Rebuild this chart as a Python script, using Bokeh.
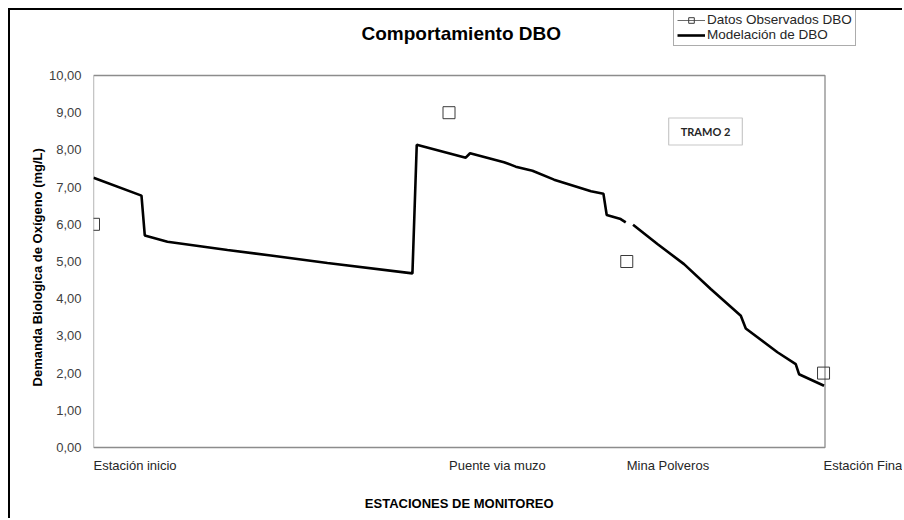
import math
from bokeh.plotting import figure
from bokeh.models import (Label, Legend, LegendItem, FixedTicker, Range1d)
from bokeh.embed import file_html
from bokeh.resources import INLINE

# ---------------- data ----------------
stations = ["Estación inicio", "Puente via muzo", "Mina Polveros", "Estación Fina"]
station_x = [0.0, 48.6, 72.9, 99.8]
dbo_observed = [6.0, 9.0, 5.0, 2.0]

model_x = [0.0, 6.56, 7.01, 10.11, 18.32, 24.24, 31.98, 43.60,
           44.19, 50.89, 51.48, 56.12, 57.72, 60.01, 62.96, 68.01,
           69.71, 70.16, 72.07, 72.76, math.nan,
           73.76, 77.09, 80.73, 84.38, 88.49, 89.17, 93.50, 96.00,
           96.45, 99.87]
model_dbo = [7.25, 6.77, 5.70, 5.53, 5.31, 5.16, 4.96, 4.68,
             8.14, 7.79, 7.91, 7.67, 7.55, 7.44, 7.20, 6.89,
             6.82, 6.25, 6.14, 6.05, math.nan,
             5.99, 5.47, 4.93, 4.26, 3.54, 3.20, 2.56, 2.24,
             1.97, 1.66]

y_ticks = [0, 1, 2, 3, 4, 5, 6, 7, 8, 9, 10]
y_tick_labels = ["0,00", "1,00", "2,00", "3,00", "4,00", "5,00",
                 "6,00", "7,00", "8,00", "9,00", "10,00"]

# plot-area extent (axis limits)
X_MIN, X_MAX = 0.0, 100.0
Y_MIN, Y_MAX = 0.0, 10.0

# ---------------- layout (pixels) ----------------
W, H = 894, 510
LEFT = 83
AREA_W, AREA_TOP, AREA_BOTTOM = 731.5, 65, 437   # plot area inside the canvas
px_x = AREA_W / (X_MAX - X_MIN)
px_y = (AREA_BOTTOM - AREA_TOP) / (Y_MAX - Y_MIN)
x_range = Range1d(X_MIN, X_MIN + (W - LEFT) / px_x)
y_range = Range1d(Y_MIN - (H - AREA_BOTTOM) / px_y, Y_MAX + AREA_TOP / px_y)

FONT = "Liberation Sans"

p = figure(width=W, height=H, output_backend="svg", toolbar_location=None,
           x_range=x_range, y_range=y_range,
           min_border_left=LEFT, min_border_right=0, min_border_top=0,
           min_border_bottom=0,
           styles={"border-left": "2px solid #000", "border-top": "2px solid #000",
                   "margin-left": "8px", "margin-top": "8px"})
p.grid.visible = False
p.outline_line_color = None
p.background_fill_color = "white"
p.border_fill_color = "white"
p.xaxis.visible = False

# plot-area box
p.quad(left=[X_MIN], right=[X_MAX], bottom=[Y_MIN], top=[Y_MAX],
       fill_color=None, line_color="#8c8c8c", line_width=1.3)

# model line
r_model = p.line(model_x, model_dbo, line_color="black", line_width=2.6)
# observed
r_obs = p.scatter(station_x, dbo_observed, marker="square", size=12,
                  fill_color=None, line_color="#3a3a3a", line_width=1)
# legend proxy for the thin series line of the observed data (draws nothing)
r_proxy = p.line([math.nan], [math.nan], line_color="#6a6a6a", line_width=1)

# y axis
ya = p.yaxis[0]
ya.ticker = FixedTicker(ticks=y_ticks)
ya.major_label_overrides = {t: l for t, l in zip(y_ticks, y_tick_labels)}
ya.major_tick_line_color = None
ya.minor_tick_line_color = None
ya.axis_line_color = None
ya.major_label_text_font = FONT
ya.major_label_text_font_size = "13px"
ya.major_label_text_color = "#404040"
ya.major_label_standoff = 6
ya.axis_label = "Demanda Biologica de Oxígeno  (mg/L)"
ya.axis_label_text_font = FONT
ya.axis_label_text_font_size = "13px"
ya.axis_label_text_font_style = "bold"
ya.axis_label_text_color = "black"
ya.axis_label_standoff = 1

# station labels (x axis categories), left aligned at the station
for sx, name in zip(station_x, stations):
    p.add_layout(Label(x=sx, y=H - 455, x_units="data", y_units="screen",
                       text=name, text_align="left", text_baseline="middle",
                       text_font=FONT, text_font_size="13px",
                       text_color="#262626"))

# x axis title
p.add_layout(Label(x=AREA_W / 2, y=H - 493, x_units="screen", y_units="screen",
                   text="ESTACIONES DE MONITOREO", text_align="center",
                   text_baseline="middle", text_font=FONT,
                   text_font_size="13px", text_font_style="bold",
                   text_color="black"))

# chart title
p.add_layout(Label(x=AREA_W / 2 + 2, y=H - 23, x_units="screen", y_units="screen",
                   text="Comportamiento DBO", text_align="center",
                   text_baseline="middle", text_font=FONT,
                   text_font_size="19px", text_font_style="bold",
                   text_color="black"))

# TRAMO 2 box
p.add_layout(Label(x=612, y=H - 121, x_units="screen", y_units="screen",
                   text="TRAMO 2", text_align="center", text_baseline="middle",
                   text_font="Lato", text_font_size="11px", text_font_style="bold",
                   text_color="#262626", border_line_color="#c8c8c8",
                   border_line_width=1.2, background_fill_color="white",
                   padding=(12, 7)))

legend = Legend(items=[
    LegendItem(label="Datos Observados DBO", renderers=[r_proxy, r_obs]),
    LegendItem(label="Modelación de DBO", renderers=[r_model]),
], location=(580, H - 36))
legend.label_text_font = FONT
legend.label_text_font_size = "13.5px"
legend.label_text_color = "#262626"
legend.border_line_color = "#595959"
legend.border_line_width = 1
legend.glyph_width = 28
legend.glyph_height = 14
legend.label_height = 14
legend.label_standoff = 2
legend.spacing = 0
legend.padding = 3
legend.margin = 0
legend.background_fill_alpha = 1
p.add_layout(legend, "center")

open("out.html", "w").write(file_html(p, INLINE))
